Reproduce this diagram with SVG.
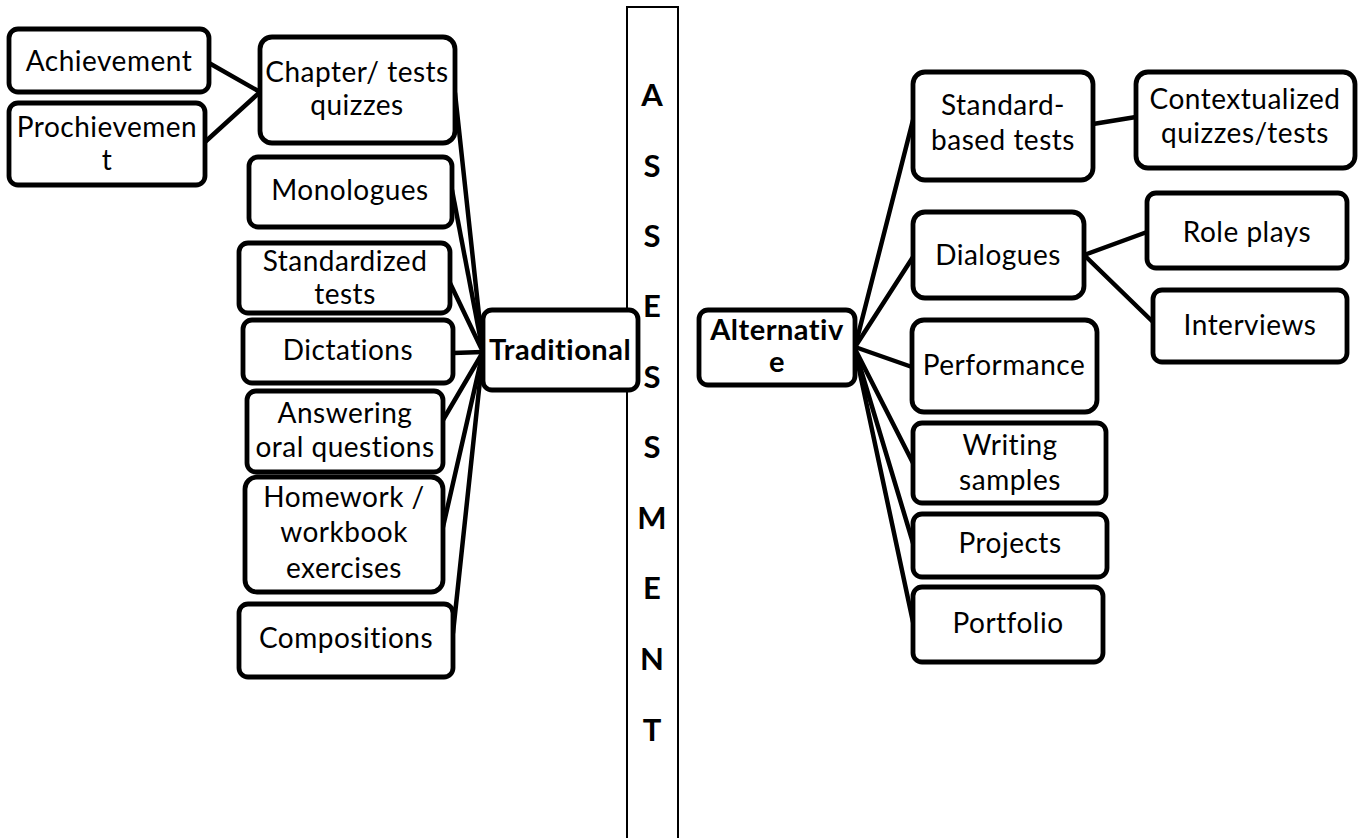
<svg xmlns="http://www.w3.org/2000/svg" width="1365" height="838" viewBox="0 0 1365 838">
<style>
.n{fill:#fff;stroke:#000;stroke-width:4.8}
.t{font-family:Lato,"Open Sans","Liberation Sans",sans-serif;font-size:28px;letter-spacing:0.5px;fill:#000;text-anchor:middle}
.b{font-weight:bold;font-size:29px}
.c line{stroke:#000;stroke-width:4.5;stroke-linecap:round}
.col{fill:#fff;stroke:#000;stroke-width:2}
.l{font-family:Lato,"Open Sans","Liberation Sans",sans-serif;font-size:31px;font-weight:bold;fill:#000;text-anchor:middle}
</style>
<rect width="1365" height="838" fill="#fff"/>
<g id="column">
<rect class="col" x="627" y="7" width="51" height="840"/>
<text class="l" x="652" y="106">A</text>
<text class="l" x="652" y="177">S</text>
<text class="l" x="652" y="247">S</text>
<text class="l" x="652" y="317">E</text>
<text class="l" x="652" y="388">S</text>
<text class="l" x="652" y="458">S</text>
<text class="l" x="652" y="529">M</text>
<text class="l" x="652" y="599">E</text>
<text class="l" x="652" y="670">N</text>
<text class="l" x="652" y="741">T</text>
</g>
<g id="connectors" class="c">
<line x1="209" y1="63" x2="260" y2="92"/>
<line x1="205" y1="142" x2="260" y2="92"/>
<line x1="455" y1="93" x2="483" y2="352"/>
<line x1="452" y1="190" x2="483" y2="352"/>
<line x1="450" y1="283" x2="483" y2="352"/>
<line x1="453" y1="353" x2="483" y2="352"/>
<line x1="443" y1="420" x2="483" y2="352"/>
<line x1="443" y1="527" x2="483" y2="352"/>
<line x1="453" y1="633" x2="483" y2="352"/>
<line x1="855" y1="347" x2="913" y2="120"/>
<line x1="855" y1="347" x2="913" y2="257"/>
<line x1="855" y1="347" x2="912" y2="367"/>
<line x1="855" y1="349" x2="913" y2="463"/>
<line x1="855" y1="350" x2="913" y2="543"/>
<line x1="855" y1="350" x2="913" y2="622"/>
<line x1="1093" y1="124" x2="1136" y2="117"/>
<line x1="1084" y1="255" x2="1147" y2="232"/>
<line x1="1084" y1="255" x2="1153" y2="322"/>
</g>
<g id="achievement"><rect class="n" x="9" y="29" width="200" height="63" rx="9"/><text class="t" x="109" y="71">Achievement</text></g>
<g id="prochievement"><rect class="n" x="9" y="103" width="196" height="82" rx="9"/><text class="t" x="107" y="137">Prochievemen</text><text class="t" x="107" y="170">t</text></g>
<g id="chapter"><rect class="n" x="260" y="37" width="195" height="106" rx="12"/><text class="t" x="357" y="82">Chapter/ tests</text><text class="t" x="357" y="115">quizzes</text></g>
<g id="monologues"><rect class="n" x="249" y="157" width="203" height="70" rx="9"/><text class="t" x="350" y="200">Monologues</text></g>
<g id="standardized"><rect class="n" x="239" y="243" width="211" height="70" rx="9"/><text class="t" x="345" y="271">Standardized</text><text class="t" x="345" y="304">tests</text></g>
<g id="dictations"><rect class="n" x="243" y="320" width="210" height="63" rx="9"/><text class="t" x="348" y="360">Dictations</text></g>
<g id="answering"><rect class="n" x="247" y="391" width="196" height="81" rx="9"/><text class="t" x="345" y="423">Answering</text><text class="t" x="345" y="457">oral questions</text></g>
<g id="homework"><rect class="n" x="245" y="477" width="198" height="115" rx="12"/><text class="t" x="344" y="507">Homework /</text><text class="t" x="344" y="542">workbook</text><text class="t" x="344" y="578">exercises</text></g>
<g id="compositions"><rect class="n" x="239" y="604" width="214" height="73" rx="9"/><text class="t" x="346" y="648">Compositions</text></g>
<g id="traditional"><rect class="n" x="483" y="310" width="155" height="80" rx="9"/><text class="t b" x="560" y="360">Traditional</text></g>
<g id="alternative"><rect class="n" x="699" y="310" width="156" height="75" rx="9"/><text class="t b" x="777" y="340">Alternativ</text><text class="t b" x="777" y="372">e</text></g>
<g id="standard-based"><rect class="n" x="913" y="72" width="180" height="108" rx="12"/><text class="t" x="1003" y="115">Standard-</text><text class="t" x="1003" y="150">based tests</text></g>
<g id="contextualized"><rect class="n" x="1136" y="72" width="219" height="96" rx="12"/><text class="t" x="1245" y="109">Contextualized</text><text class="t" x="1245" y="143">quizzes/tests</text></g>
<g id="dialogues"><rect class="n" x="913" y="212" width="171" height="86" rx="12"/><text class="t" x="998" y="265">Dialogues</text></g>
<g id="roleplays"><rect class="n" x="1147" y="193" width="200" height="75" rx="9"/><text class="t" x="1247" y="242">Role plays</text></g>
<g id="interviews"><rect class="n" x="1153" y="290" width="194" height="72" rx="9"/><text class="t" x="1250" y="335">Interviews</text></g>
<g id="performance"><rect class="n" x="912" y="320" width="185" height="92" rx="12"/><text class="t" x="1004" y="375">Performance</text></g>
<g id="writing"><rect class="n" x="913" y="423" width="193" height="80" rx="9"/><text class="t" x="1010" y="455">Writing</text><text class="t" x="1010" y="490">samples</text></g>
<g id="projects"><rect class="n" x="913" y="514" width="194" height="63" rx="9"/><text class="t" x="1010" y="553">Projects</text></g>
<g id="portfolio"><rect class="n" x="913" y="587" width="190" height="75" rx="9"/><text class="t" x="1008" y="633">Portfolio</text></g>
</svg>
